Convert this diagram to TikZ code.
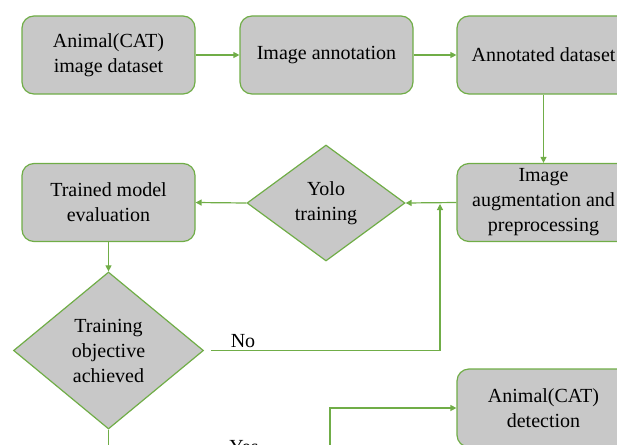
\documentclass[tikz,border=0pt]{standalone}
\usepackage{fontspec}
\setmainfont{Liberation Serif}
\usetikzlibrary{arrows.meta,shapes.geometric}
\definecolor{lgreen}{HTML}{70AD47}
\definecolor{boxgray}{RGB}{200,200,200}
\begin{document}
\begin{tikzpicture}[x=1pt,y=-1pt,
  font=\fontsize{20}{25}\selectfont,
  box/.style={draw=lgreen, fill=boxgray, line width=1.2pt, rounded corners=12pt,
    minimum width=173pt, minimum height=78pt, align=center, inner sep=0pt},
  dia/.style={draw=lgreen, fill=boxgray, line width=1.2pt, shape=diamond,
    align=center, inner sep=0pt},
  conn/.style={draw=lgreen, line width=1.2pt, -{Triangle[length=6pt,width=6pt]}},
  lbl/.style={anchor=base, inner sep=0pt}]
\useasboundingbox (0,0) rectangle (617,444);
\clip (0,0) rectangle (617,444);
\node[box] (b1) at (108.5,55) {Animal(CAT)\\image dataset};
\node[box] (b2) at (326.5,55) {Image annotation};
\node[box] (b3) at (543.5,55) {Annotated dataset};
\node[box] (b4) at (543.5,202.5) {Image\\augmentation and\\preprocessing};
\node[dia, minimum width=158pt, minimum height=116pt] (yolo) at (326,203) {Yolo\\training};
\node[box] (b5) at (108.5,202.5) {Trained model\\evaluation};
\node[dia, minimum width=190pt, minimum height=157pt] (d) at (108.5,350.5) {Training\\objective\\achieved};
\node[box] (b6) at (543.5,408) {Animal(CAT)\\detection};
\node[lbl] (no) at (243,347) {No};
\node[lbl] (yes) at (244,453) {Yes};
\coordinate (nostart) at ([xshift=7pt]d.east);
\coordinate (nojoin) at (440,204);
\coordinate (ybottom) at (330,470);
\draw[conn] (b1) -- (b2);
\draw[conn] (b2) -- (b3);
\draw[conn] (b3) -- (b4);
\draw[conn] (b4.west) -- (yolo.east);
\draw[conn] (yolo.west) -- (b5.east);
\draw[conn] (b5) -- (d);
\draw[conn] (nostart) -- (nostart -| nojoin) -- (nojoin);
\draw[conn] (d.south) |- (ybottom) |- (b6.west);
\end{tikzpicture}
\end{document}
